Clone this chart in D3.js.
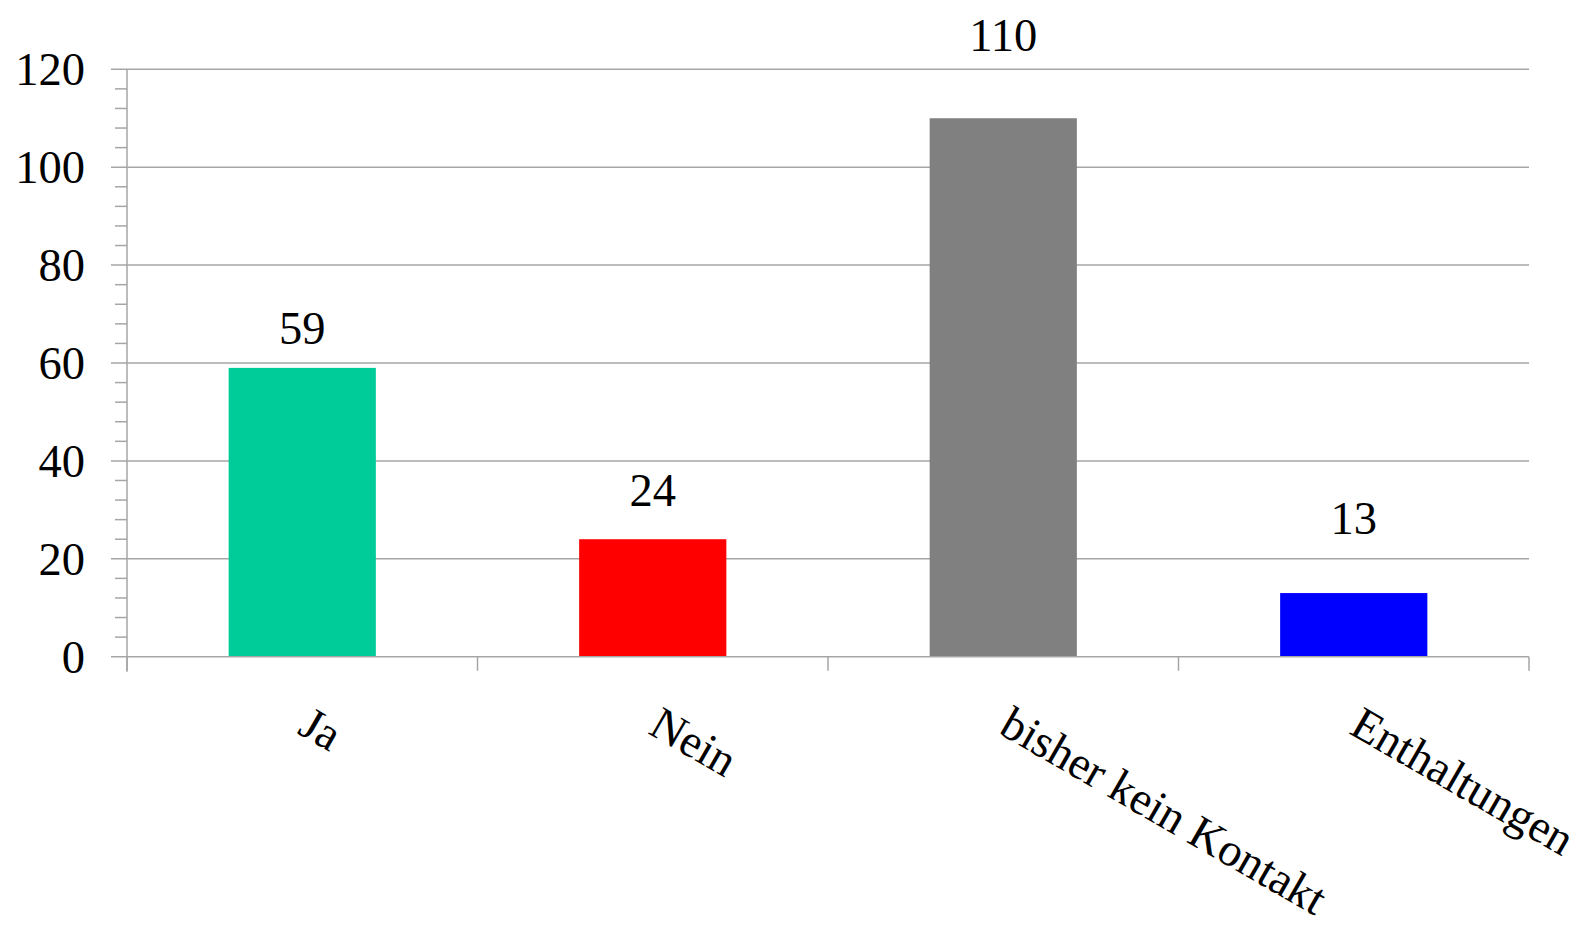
<!DOCTYPE html>
<html>
<head>
<meta charset="utf-8">
<script src="https://cdn.jsdelivr.net/npm/d3@7"></script>
<style>
  html, body { margin: 0; padding: 0; background: #fff; }
  svg { display: block; }
  text { font-family: "Liberation Serif", "Times New Roman", serif; fill: #000; }
</style>
</head>
<body>
<svg id="chart" width="1584" height="925"></svg>
<script>
// ---- data ----
const categories = ["Ja", "Nein", "bisher kein Kontakt", "Enthaltungen"];
const values = [59, 24, 110, 13];
const barColors = ["#00CC99", "#FF0000", "#808080", "#0000FF"];
const yTicks = [0, 20, 40, 60, 80, 100, 120];

// ---- layout ----
const W = 1584, H = 925;
const margin = { top: 69.3, right: 55, bottom: 268.3, left: 127 };
const labelLift = [24, 33.3, 67.7, 58.7]; // px above bar top for value labels
const gridColor = "#A6A6A6";
const fontSize = 46.5;

const svg = d3.select("#chart");
const innerW = W - margin.left - margin.right;
const innerH = H - margin.top - margin.bottom;
const g = svg.append("g").attr("transform", `translate(${margin.left},${margin.top})`);

const x = d3.scaleBand().domain(categories).range([0, innerW])
  .paddingInner(0.58).paddingOuter(0.29);
const y = d3.scaleLinear().domain([0, 120]).range([innerH, 0]);

// gridlines (major), extending left past the axis as major ticks
g.append("g").selectAll("line").data(yTicks.filter(d => d > 0)).join("line")
  .attr("x1", -16).attr("x2", innerW)
  .attr("y1", d => y(d)).attr("y2", d => y(d))
  .attr("stroke", gridColor).attr("stroke-width", 1.5);

// minor ticks on y axis every 4 units
const minor = d3.range(0, 121, 4).filter(d => d % 20 !== 0);
g.append("g").selectAll("line").data(minor).join("line")
  .attr("x1", -12).attr("x2", 0)
  .attr("y1", d => y(d)).attr("y2", d => y(d))
  .attr("stroke", gridColor).attr("stroke-width", 1.5);

// bars
g.append("g").selectAll("rect").data(values).join("rect")
  .attr("x", (d, i) => x(categories[i]))
  .attr("y", d => y(d))
  .attr("width", x.bandwidth())
  .attr("height", d => y(0) - y(d))
  .attr("fill", (d, i) => barColors[i]);

// y axis line
g.append("line").attr("x1", 0).attr("x2", 0).attr("y1", y(120)).attr("y2", y(0) + 15)
  .attr("stroke", gridColor).attr("stroke-width", 1.5);
// zero line / x axis
g.append("line").attr("x1", -16).attr("x2", innerW).attr("y1", y(0)).attr("y2", y(0))
  .attr("stroke", gridColor).attr("stroke-width", 1.5);
// category boundary ticks
const bounds = categories.map((c, i) => i * x.step()).concat([innerW]);
g.append("g").selectAll("line").data(bounds).join("line")
  .attr("x1", d => d).attr("x2", d => d)
  .attr("y1", y(0)).attr("y2", y(0) + 14)
  .attr("stroke", gridColor).attr("stroke-width", 1.5);

// y tick labels
g.append("g").selectAll("text").data(yTicks).join("text")
  .attr("x", -42).attr("y", d => y(d) + 16)
  .attr("text-anchor", "end")
  .attr("font-size", fontSize)
  .text(d => d);

// value labels
g.append("g").selectAll("text").data(values).join("text")
  .attr("x", (d, i) => x(categories[i]) + x.bandwidth() / 2)
  .attr("y", (d, i) => y(d) - labelLift[i])
  .attr("text-anchor", "middle")
  .attr("font-size", fontSize)
  .text(d => d);

// category labels rotated
g.append("g").selectAll("text").data(categories).join("text")
  .attr("transform", d => `translate(${x(d) + x.bandwidth() / 2 - 6},${y(0) + 76}) rotate(30)`)
  .attr("text-anchor", "start")
  .attr("font-size", fontSize)
  .text(d => d);
</script>
</body>
</html>
